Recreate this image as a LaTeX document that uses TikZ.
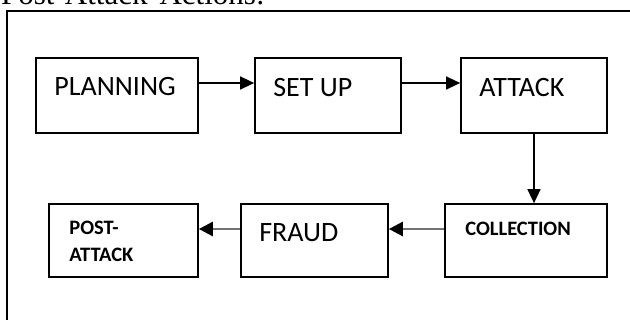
\documentclass[tikz,border=0pt]{standalone}
\usepackage{fontspec}
\setmainfont{Carlito}
\newfontfamily\titlefont{Liberation Serif}
\usetikzlibrary{arrows.meta,calc}
\begin{document}
\begin{tikzpicture}[x=1pt,y=-1pt,
  stagebox/.style={draw, line width=1.7pt, inner sep=0pt, minimum width=#1},
  toprow/.style={minimum height=75pt},
  lowrow/.style={minimum height=73pt},
  bigtext/.style={anchor=base west, inner sep=0pt, font=\fontsize{28}{28}\selectfont},
  smalltext/.style={anchor=base west, inner sep=0pt, font=\bfseries\fontsize{20.5}{27}\selectfont, align=left},
  flow/.style={line width=1.5pt, -{Triangle[length=14pt,width=13pt]}},
  backflow/.style={line width=2.6pt, draw=black!55, -{Triangle[length=14pt,width=14pt,color=black]}},
]
\useasboundingbox (0,0) rectangle (630,320);

% heading above the frame (only its lower part falls inside the page)
\node[anchor=base west, inner sep=0pt, font=\titlefont\fontsize{31}{31}\selectfont] (title) at (1,5) {Post-Attack\hspace{12pt}Actions:};

% outer frame
\draw[line width=1.8pt] (7,330) -- (7,11) -- (640,11);

% stages, first row
\node[stagebox=162pt, toprow] (plan)   at (117,95.5) {};
\node[stagebox=146pt, toprow] (setup)  at (328,95.5) {};
\node[stagebox=146pt, toprow] (attack) at (534,95.5) {};
% stages, second row
\node[stagebox=162pt, lowrow] (coll)  at (526,240.5) {};
\node[stagebox=147pt, lowrow] (fraud) at (314.5,240.5) {};
\node[stagebox=149pt, lowrow] (post)  at (123.5,240.5) {};

% stage names
\node[bigtext] (planT)   at ($(plan.north west)+(19,38.5)$)   {PLANNING};
\node[bigtext] (setupT)  at ($(setup.north west)+(19,39.5)$)  {SET UP};
\node[bigtext] (attackT) at ($(attack.north west)+(19,39.5)$) {ATTACK};
\node[bigtext] (fraudT)  at ($(fraud.north west)+(19,38)$)    {FRAUD};
\node[smalltext] (collT) at ($(coll.north west)+(21,32)$)     {COLLECTION};
\node[smalltext] (postT) at ($(post.north west)+(21,58)$)     {POST-\\ATTACK};

% connectors
\draw[flow] ([yshift=12.5pt]plan.east) -- ([yshift=12.5pt]setup.west);
\draw[flow] ([yshift=12.5pt]setup.east) -- ([yshift=12.5pt]attack.west);
\draw[flow] (attack.south) -- (attack.south |- coll.north);
\draw[backflow] ([yshift=11.5pt]coll.west) -- ([yshift=11.5pt]fraud.east);
\draw[backflow] ([yshift=11.5pt]fraud.west) -- ([yshift=11.5pt]post.east);
\end{tikzpicture}
\end{document}
